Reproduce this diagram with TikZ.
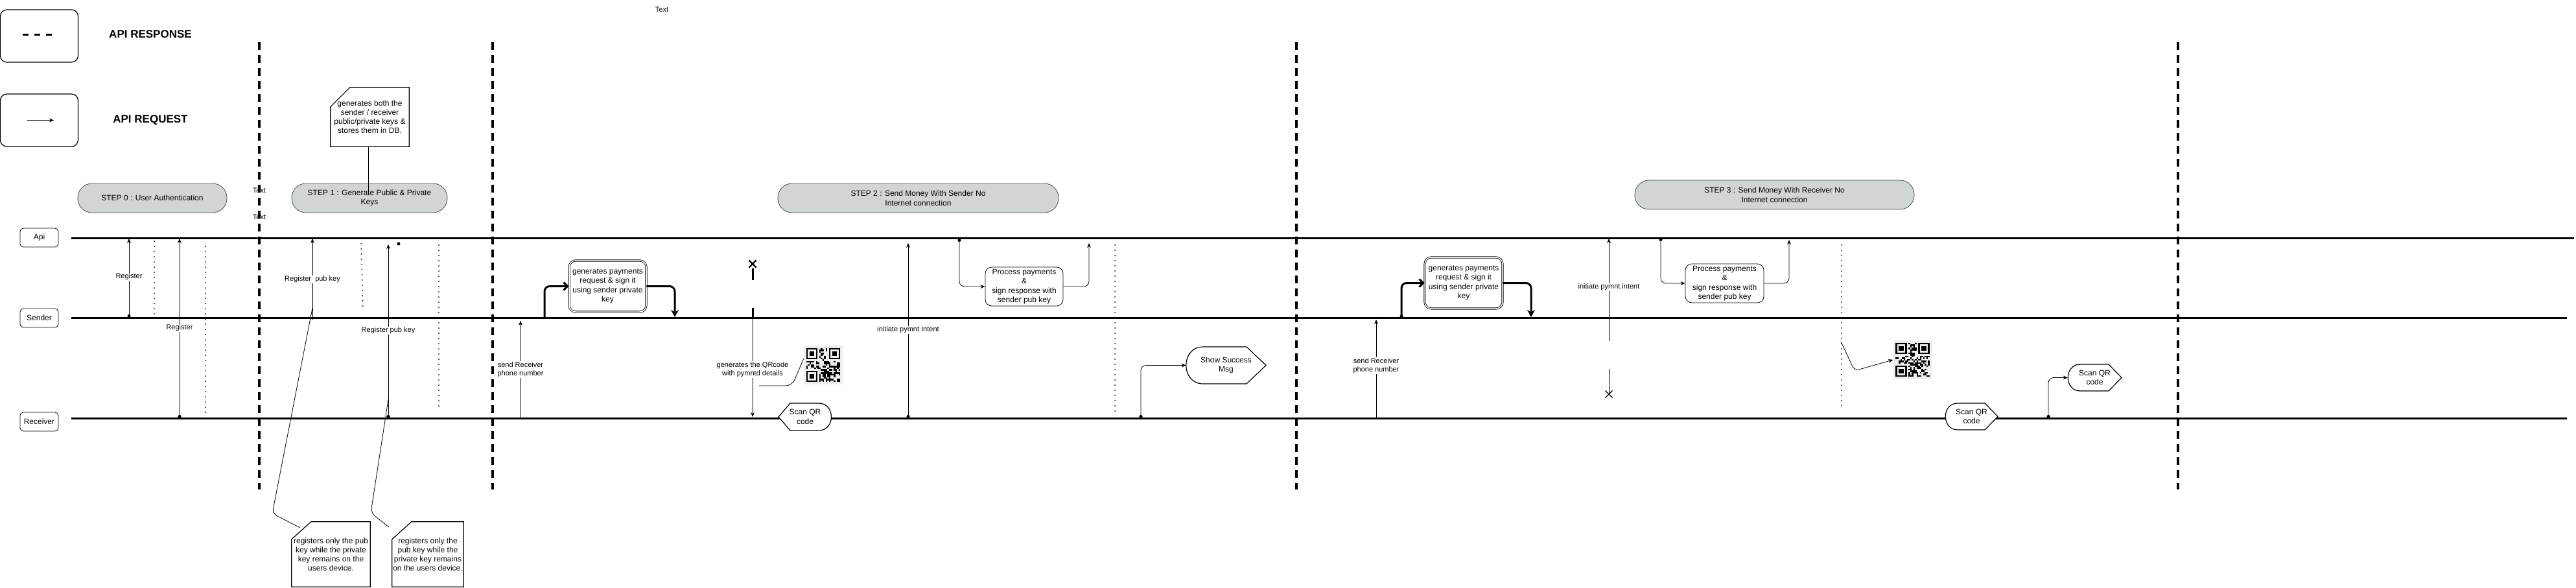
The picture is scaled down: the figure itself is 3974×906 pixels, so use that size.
\documentclass[tikz,border=0pt]{standalone}
\usepackage{fontspec}
\setmainfont{Liberation Sans}
\usetikzlibrary{arrows.meta,shapes.misc,calc}
\definecolor{stepgray}{RGB}{209,213,211}
\definecolor{qrback}{RGB}{238,238,238}

\newcommand{\qrmark}[2]{%
  \begin{scope}[shift={(#1.north west)}]
    \pgfmathsetseed{#2}
    \foreach \i in {0,...,20}{
      \foreach \j in {0,...,20}{
        \pgfmathtruncatemacro{\qbit}{rnd<0.5}
        \ifnum\qbit=1 \fill (4+2.5*\i,4+2.5*\j) rectangle ++(2.5,2.5); \fi
      }
    }
    \foreach \a/\b in {0/0,14/0,0/14}{
      \fill[qrback] (1.5+2.5*\a,1.5+2.5*\b) rectangle ++(22.5,22.5);
      \fill (4+2.5*\a,4+2.5*\b) rectangle ++(17.5,17.5);
      \fill[qrback] (6.5+2.5*\a,6.5+2.5*\b) rectangle ++(12.5,12.5);
      \fill (9+2.5*\a,9+2.5*\b) rectangle ++(7.5,7.5);
    }
  \end{scope}}

\begin{document}
\begin{tikzpicture}[x=1pt,y=-1pt,
    actor/.style={draw,line width=0.8pt,rounded corners=5pt,minimum width=59pt,minimum height=29pt,inner sep=0pt,font=\fontsize{12}{14}\selectfont},
    pill/.style={draw=black!70,line width=0.8pt,fill=stepgray,rounded corners=22pt,minimum height=45pt,inner sep=0pt,align=center,font=\fontsize{12}{14.5}\selectfont},
    legbox/.style={draw,line width=1.2pt,rounded corners=10pt,minimum width=120pt,minimum height=81pt},
    legtext/.style={font=\bfseries\fontsize{17}{20}\selectfont},
    lifeline/.style={line width=3pt},
    stepsep/.style={line width=3.5pt,dash pattern=on 12pt off 8pt},
    resp/.style={line width=2pt,line cap=round,dash pattern=on 0pt off 8pt},
    req/.style={line width=0.8pt,-{Stealth[length=7pt,width=6pt]}},
    dotreq/.style={line width=0.8pt,{Circle[length=5pt]}-{Stealth[length=7pt,width=6pt]}},
    thickreq/.style={line width=3pt,rounded corners=8pt},
    lbl/.style={fill=white,inner sep=1pt,align=center,font=\fontsize{11}{13}\selectfont},
    plain/.style={inner sep=0pt,font=\fontsize{11}{13}\selectfont},
    proc/.style={draw,line width=0.8pt,rounded corners=10pt,fill=white,inner sep=0pt,align=center,font=\fontsize{12}{14.5}\selectfont},
    dproc/.style={proc,double,double distance=1.5pt},
    note/.style={inner sep=0pt,align=center,font=\fontsize{12}{14}\selectfont},
    shapetext/.style={inner sep=0pt,align=center,font=\fontsize{12}{14.5}\selectfont},
  ]
        \useasboundingbox (0,0) rectangle (3974,906);

        \node[plain] (ttop) at (1021,15) {Text};

        \node[legbox] (lresp) at (60.5,55.5) {};
        \node[legbox] (lreq) at (60.5,185.5) {};
        \node[legtext] (tresp) at (232,53) {API RESPONSE};
        \node[legtext] (treq) at (232,185) {API REQUEST};
        \draw[line width=3pt,dash pattern=on 9pt off 9pt] ($(lresp.center)+(-25.5,-2.5)$) -- ++(45,0);
        \draw[req] ($(lreq.center)+(-18.5,0)$) -- ++(41,0);

        \draw[lifeline] (110,367) -- (3971,367);
        \draw[lifeline] (110,490) -- (3960,490);
        \draw[lifeline] (110,645) -- (3960,645);

        \foreach \sx in {400,760,2000,3360}
          \draw[stepsep] (\sx,65) -- (\sx,755);

        \node[actor] (api) at (60.5,366.5) {Api};
        \node[actor] (snd) at (60.5,490.5) {Sender};
        \node[actor] (rcv) at (60.5,650.5) {Receiver};

        \node[pill,minimum width=230pt] (s0) at (235,305.5) {STEP 0 : User Authentication};
        \node[pill,minimum width=240pt] (s1) at (570,305.5) {STEP 1 : Generate Public \& Private\\Keys};
        \node[pill,minimum width=433pt] (s2) at (1416.5,305.5) {STEP 2 : Send Money With Sender No\\Internet connection};
        \node[pill,minimum width=431pt] (s3) at (2737.5,300.5) {STEP 3 : Send Money With Receiver No\\Internet connection};

        \node[plain] (txta) at (400,294) {Text};
        \node[plain] (txtb) at (400,335) {Text};

        \coordinate (a1a) at (199,490);
        \coordinate (a1b) at (199,368);
        \draw[dotreq] (a1a) -- (a1b);
        \node[lbl] (la1) at (199,427) {Register};
        \draw[resp] (238,372) -- (238,485);

        \coordinate (a2a) at (277,645);
        \coordinate (a2b) at (277,368);
        \draw[dotreq] (a2a) -- (a2b);
        \node[lbl] (la2) at (277,506) {Register};
        \draw[resp] (317,380) -- (317,642);

        \node[note,minimum width=121pt,minimum height=91pt] (n0) at (570.5,180.5) {generates both the\\sender / receiver\\public/private keys \&\\stores them in DB.};
        \draw[line width=1.2pt] ($(n0.north west)+(30,0)$) -- (n0.north east) -- (n0.south east) -- (n0.south west) -- ($(n0.north west)+(0,30)$) -- cycle;
        \coordinate (n0end) at (568,296);
        \draw[line width=0.8pt] (n0.south -| n0end) -- (n0end);

        \coordinate (b1a) at (482,493);
        \coordinate (b1b) at (482,368);
        \draw[req] (b1a) -- (b1b);
        \node[lbl] (lb1) at (482,431) {Register\ \ pub key};
        \draw[resp] (557,368) -- (560,479);

        \coordinate (b2a) at (599,645);
        \coordinate (b2b) at (599,377);
        \draw[dotreq] (b2a) -- (b2b);
        \node[lbl] (lb2) at (599,510) {Register pub key};
        \node[circle,fill,inner sep=0pt,minimum size=5pt] (dot1) at (615,376) {};
        \draw[resp] (677,378) -- (677,633);

        \node[note,minimum width=121pt,minimum height=100pt] (n1) at (510.5,855) {registers only the pub\\key while the private\\key remains on the\\users device.};
        \draw[line width=1.2pt] ($(n1.north west)+(30,0)$) -- (n1.north east) -- (n1.south east) -- (n1.south west) -- ($(n1.north west)+(0,27)$) -- cycle;
        \node[note,minimum width=110pt,minimum height=100pt] (n2) at (660,855) {registers only the\\pub key while the\\private key remains\\on the users device.};
        \draw[line width=1.2pt] ($(n2.north west)+(30,0)$) -- (n2.north east) -- (n2.south east) -- (n2.south west) -- ($(n2.north west)+(0,27)$) -- cycle;

        \coordinate (k1a) at (482,475);
        \coordinate (k1b) at (463,814);
        \draw[line width=0.8pt,rounded corners=8pt] (k1a) -- (420,792) -- (k1b);
        \coordinate (k2a) at (599,616);
        \coordinate (k2b) at (600,813);
        \draw[line width=0.8pt,rounded corners=8pt] (k2a) -- (572,791) -- (k2b);

        \coordinate (c1a) at (803,645);
        \coordinate (c1b) at (803,495);
        \draw[req] (c1a) -- (c1b);
        \node[lbl] (lc1) at (803,570) {send Receiver\\phone number};

        \node[dproc,minimum width=119pt,minimum height=79pt] (g1) at (937.5,441.5) {generates payments\\request \& sign it\\using sender private\\key};
        \coordinate (c2a) at (840,490);
        \draw[thickreq,-{Straight Barb[length=6pt,width=12pt]}] (c2a) |- (g1.west);
        \coordinate (c3b) at (1041,489);
        \draw[thickreq,-{Stealth[length=11pt,width=12pt]}] (g1.east) -| (c3b);

        \node[draw,cross out,line width=2.2pt,minimum size=9pt,inner sep=0pt] (x1) at (1161,407) {};
        \draw[line width=3pt] (1161,414) -- (1161,432);
        \draw[line width=3pt] (1161,475) -- (1161,490);
        \coordinate (c4a) at (1161,490);
        \coordinate (c4b) at (1161,643);
        \draw[req] (c4a) -- (c4b);
        \node[lbl] (lc4) at (1161,570) {generates the QRcode\\with pymntd details};

        \node[fill=qrback,minimum size=60pt,inner sep=0pt] (qr1) at (1270,563) {};
        \qrmark{qr1}{11}
        \coordinate (q1a) at (1171,595);
        \draw[line width=0.8pt,rounded corners=10pt] (q1a) -- (1222,595) -- ($(qr1.west)+(0,-10)$);

        \draw[line width=1.2pt,fill=white] (1201,643) -- (1219,622) -- (1263,622) .. controls (1289,622) and (1289,664) .. (1263,664) -- (1219,664) -- cycle;
        \node[shapetext,minimum width=82pt,minimum height=42pt] (scan1) at (1242,643) {Scan QR\\code};

        \coordinate (c5a) at (1401,645);
        \coordinate (c5b) at (1401,375);
        \draw[dotreq] (c5a) -- (c5b);
        \node[lbl] (lc5) at (1401,509) {initiate pymnt Intent};

        \node[proc,minimum width=120pt,minimum height=60pt] (p1) at (1580,442) {Process payments\\\&\\sign response with\\sender pub key};
        \coordinate (c6a) at (1480,368);
        \draw[dotreq,rounded corners=8pt] (c6a) |- (p1.west);
        \coordinate (c7b) at (1680,375);
        \draw[req,rounded corners=8pt] (p1.east) -| (c7b);
        \draw[resp] (1720,378) -- (1720,635);

        \draw[line width=1.2pt,fill=white] (1856,535) -- (1923,535) -- (1953,563.5) -- (1923,592) -- (1856,592) .. controls (1821,592) and (1821,535) .. (1856,535) -- cycle;
        \node[shapetext,minimum width=123pt,minimum height=57pt] (succ) at (1891.5,563.5) {Show Success\\Msg};
        \coordinate (c8a) at (1760,645);
        \draw[dotreq,rounded corners=8pt] (c8a) |- (succ.west);

        \coordinate (d1a) at (2123,645);
        \coordinate (d1b) at (2123,493);
        \draw[req] (d1a) -- (d1b);
        \node[lbl] (ld1) at (2123,564) {send Receiver\\phone number};

        \node[dproc,minimum width=120pt,minimum height=79pt] (g2) at (2258,436.5) {generates payments\\request \& sign it\\using sender private\\key};
        \coordinate (d2a) at (2162,490);
        \draw[thickreq,{Circle[length=5pt]}-{Straight Barb[length=6pt,width=12pt]}] (d2a) |- (g2.west);
        \coordinate (d3b) at (2362,489);
        \draw[thickreq,-{Stealth[length=11pt,width=12pt]}] (g2.east) -| (d3b);

        \node[draw,cross out,line width=1.2pt,minimum size=10pt,inner sep=0pt] (x2) at (2482,608) {};
        \coordinate (d4m) at (2482,569);
        \draw[line width=0.8pt] (x2.center) -- (d4m);
        \coordinate (d4a) at (2482,526);
        \coordinate (d4b) at (2482,368);
        \draw[req] (d4a) -- (d4b);
        \node[lbl] (ld4) at (2482,443) {initiate pymnt intent};

        \node[proc,minimum width=121pt,minimum height=60pt] (p2) at (2660.5,437) {Process payments\\\&\\sign response with\\sender pub key};
        \coordinate (d5a) at (2562,367);
        \draw[dotreq,rounded corners=8pt] (d5a) |- (p2.west);
        \coordinate (d6b) at (2760,370);
        \draw[req,rounded corners=8pt] (p2.east) -| (d6b);
        \draw[resp] (2841,378) -- (2841,633);

        \node[fill=qrback,minimum size=60pt,inner sep=0pt] (qr2) at (2950.5,555) {};
        \qrmark{qr2}{23}
        \coordinate (q2a) at (2840,527);
        \draw[req,rounded corners=8pt] (q2a) -- (2861,572) -- (qr2.west);

        \draw[line width=1.2pt,fill=white] (3020,622) -- (3062,622) -- (3082,642.5) -- (3062,663) -- (3020,663) .. controls (2995,663) and (2995,622) .. (3020,622) -- cycle;
        \node[shapetext,minimum width=81pt,minimum height=41pt] (scan2) at (3041.5,642.5) {Scan QR\\code};

        \draw[line width=1.2pt,fill=white] (3209,562) -- (3253,562) -- (3273,582.5) -- (3253,603) -- (3209,603) .. controls (3184,603) and (3184,562) .. (3209,562) -- cycle;
        \node[shapetext,minimum width=83pt,minimum height=41pt] (scan3) at (3231.5,582.5) {Scan QR\\code};
        \coordinate (e1a) at (3160,645);
        \draw[dotreq,rounded corners=8pt] (e1a) |- (scan3.west);
      \end{tikzpicture}
\end{document}
